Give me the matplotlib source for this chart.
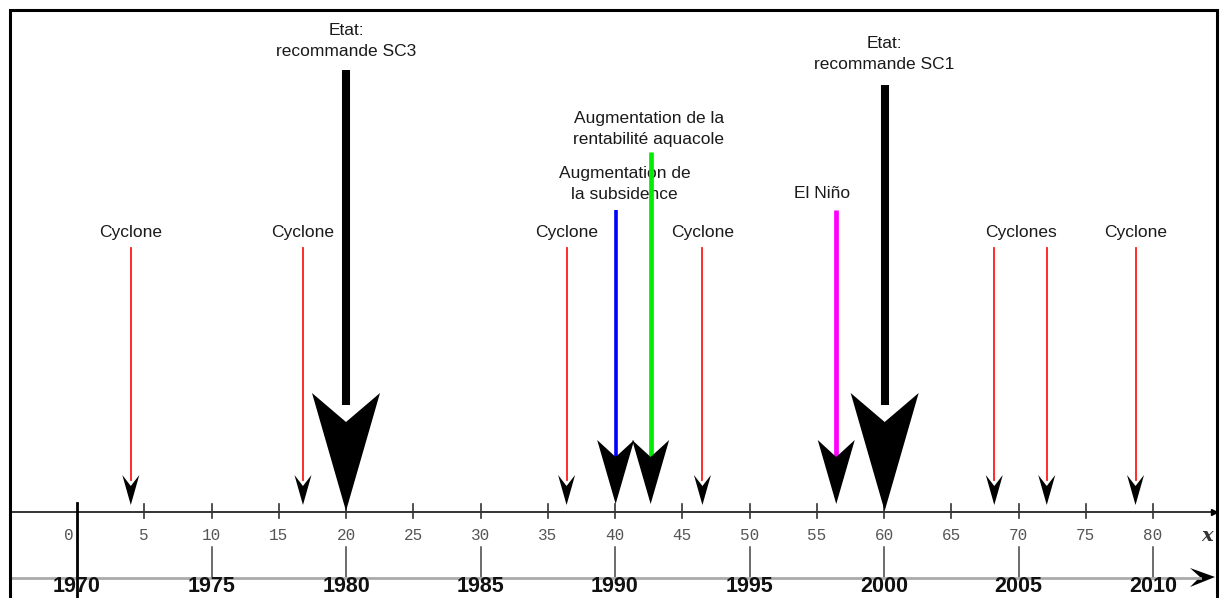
import matplotlib
matplotlib.use("Agg")
import matplotlib.pyplot as plt

# ---- data (x in years since 1970) ----
cyclone_x = [4.0, 16.8, 36.4, 46.5, 68.2, 72.1, 78.7]
cyclone_label_text = ["Cyclone", "Cyclone", "Cyclone", "Cyclone", "Cyclones", "Cyclone"]
cyclone_label_members = [[0], [1], [2], [3], [4, 5], [6]]

event_x = [20.0, 40.05, 42.65, 56.45, 60.05]
event_labels = ["Etat:\nrecommande SC3",
                "Augmentation de\nla subsidence",
                "Augmentation de la\nrentabilité aquacole",
                "El Niño",
                "Etat:\nrecommande SC1"]

axis_ticks = list(range(0, 85, 5))
year_ticks = list(range(0, 85, 10))
year_labels = ["1970", "1975", "1980", "1985", "1990", "1995", "2000", "2005", "2010"]

# ---- layout: x in data units, y in pixels from the top ----
W, H = 1221, 598
PX = 13.45          # pixels per x unit
X0 = 77             # pixel position of x = 0

fig = plt.figure(figsize=(W / 100, H / 100), dpi=100)
ax = fig.add_axes([0, 0, 1, 1])
ax.set_xlim(-X0 / PX, (W - X0) / PX)
ax.set_ylim(H, 0)
ax.axis("off")


def px(p):
    return (p - X0) / PX


def head(x, wing_y, notch_y, tip_y, half_w):
    hw = half_w / PX
    ax.fill([x - hw, x, x + hw, x], [wing_y, notch_y, wing_y, tip_y],
            color="black", lw=0, zorder=4)


# frame
ax.plot([px(10), px(10), px(1217), px(1217)], [H, 10, 10, H], color="black", lw=2.2,
        solid_joinstyle="miter", zorder=5)

# main axis
ax.plot([px(10), px(1210)], [512, 512], color="#333333", lw=1.4, zorder=2)
ax.plot([px(1214)], [512], marker=">", color="black", ms=5, zorder=3)
for t in axis_ticks[1:]:
    ax.plot([t, t], [504, 518], color="#333333", lw=1.2, zorder=2)
for t in axis_ticks:
    dx = -8 / PX if t == 0 else 0
    ax.text(t + dx, 535, str(t), ha="center", va="center", fontsize=11.5,
            family="Liberation Mono", color="#555555")
ax.text(px(1207), 536, "x", ha="center", va="center", fontsize=14,
        family="DejaVu Serif", style="italic", weight="bold", color="#333333")

# year axis
ax.plot([0, 0], [503, H], color="black", lw=2, zorder=3)
for t in year_ticks[1:]:
    ax.plot([t, t], [547, 577], color="#444444", lw=1.1)
ax.plot([px(10), px(1200)], [578, 578], color="#aaaaaa", lw=2)
ax.fill([px(1190), px(1215), px(1190), px(1200)], [568, 577, 587, 577],
        color="black", lw=0)
for t, lab in zip(year_ticks, year_labels):
    ax.text(t, 597.5, lab, ha="center", va="bottom", fontsize=15.5,
            family="Liberation Sans", weight="bold", color="#111111", zorder=6)

# cyclones
for x in cyclone_x:
    ax.plot([x, x], [248, 480], color="#ff1a1a", lw=1.3, zorder=3)
    head(x, 475, 486, 505, 8.5)
for text, members in zip(cyclone_label_text, cyclone_label_members):
    cx = sum(cyclone_x[i] for i in members) / len(members)
    ax.text(cx, 233, text, ha="center", va="center", fontsize=12.5,
            family="Liberation Sans", color="#1a1a1a")

# other events
ev_style = [
    dict(color="black", lw=5.8, top=70, size="big", ly=41, dx=0),
    dict(color="#0000ff", lw=2.6, top=210, size="mid", ly=184, dx=9),
    dict(color="#00ee00", lw=3.4, top=152, size="mid", ly=129, dx=-2),
    dict(color="#ff00ff", lw=3.4, top=210, size="mid", ly=193, dx=-14),
    dict(color="black", lw=5.8, top=85, size="big", ly=54, dx=0),
]
for x, lab, st in zip(event_x, event_labels, ev_style):
    if st["size"] == "big":
        ax.plot([x, x], [st["top"], 405], color=st["color"], lw=st["lw"],
                solid_capstyle="butt", zorder=3)
        head(x, 393, 422, 511, 34)
    else:
        ax.plot([x, x], [st["top"], 458], color=st["color"], lw=st["lw"],
                solid_capstyle="butt", zorder=3)
        head(x, 440, 457, 504, 18.5)
    ax.text(x + st["dx"] / PX, st["ly"], lab, ha="center", va="center",
            fontsize=12.5, family="Liberation Sans", color="#1a1a1a",
            linespacing=1.5)

fig.savefig("out.png", dpi=100)
